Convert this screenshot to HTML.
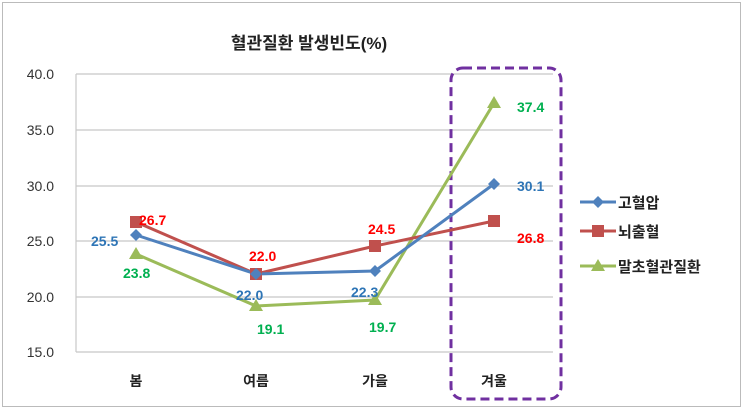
<!DOCTYPE html><html><head><meta charset="utf-8"><style>body{margin:0;background:#fff}svg{display:block}</style></head><body>
<svg width="743" height="410" xmlns="http://www.w3.org/2000/svg" font-family="'Liberation Sans','Noto Sans CJK KR',sans-serif">
<rect x="2.5" y="2.5" width="738" height="404" fill="#fff" stroke="#bbb"/>
<text x="309" y="49" text-anchor="middle" font-size="17" font-weight="bold" fill="#222">혈관질환 발생빈도(%)</text>
<g stroke="#c8c8c8" stroke-width="1.2">
<line x1="76" y1="74" x2="553" y2="74"/><line x1="76" y1="130" x2="553" y2="130"/><line x1="76" y1="186" x2="553" y2="186"/><line x1="76" y1="241" x2="553" y2="241"/><line x1="76" y1="297" x2="553" y2="297"/><line x1="76" y1="352" x2="553" y2="352"/><line x1="76" y1="74" x2="76" y2="352"/></g>
<g font-size="14" fill="#333" text-anchor="end"><text x="54" y="79">40.0</text><text x="54" y="135">35.0</text><text x="54" y="191">30.0</text><text x="54" y="246">25.0</text><text x="54" y="302">20.0</text><text x="54" y="357">15.0</text></g>
<g font-size="14" font-weight="bold" fill="#222" text-anchor="middle"><text x="136" y="386">봄</text><text x="256" y="386">여름</text><text x="375" y="386">가을</text><text x="494" y="386">겨울</text></g>
<rect x="451" y="68" width="110" height="331" rx="12" fill="none" stroke="#7030a0" stroke-width="3" stroke-dasharray="9,5"/>
<polyline points="136,254 256,306 375,300 494,103" fill="none" stroke="#9bbb59" stroke-width="3"/>
<polyline points="136,222 256,274 375,246 494,221" fill="none" stroke="#c0504d" stroke-width="3"/>
<polyline points="136,235 256,274 375,271 494,184" fill="none" stroke="#4f81bd" stroke-width="3"/>
<g fill="#9bbb59"><path d="M136,247l7,12h-14z"/><path d="M256,299l7,12h-14z"/><path d="M375,293l7,12h-14z"/><path d="M494,96l7,12h-14z"/></g>
<g fill="#c0504d"><rect x="130" y="216" width="12" height="12"/><rect x="250" y="268" width="12" height="12"/><rect x="369" y="240" width="12" height="12"/><rect x="488" y="215" width="12" height="12"/></g>
<g fill="#4f81bd"><path d="M136,229l6,6-6,6-6-6z"/><path d="M256,268l6,6-6,6-6-6z"/><path d="M375,265l6,6-6,6-6-6z"/><path d="M494,178l6,6-6,6-6-6z"/></g>
<g font-size="14" font-weight="bold">
<text x="91" y="246" fill="#2e75b6">25.5</text><text x="236" y="300" fill="#2e75b6">22.0</text><text x="351" y="297" fill="#2e75b6">22.3</text><text x="517" y="191" fill="#2e75b6">30.1</text>
<text x="139" y="225" fill="#ff0000">26.7</text><text x="249" y="261" fill="#ff0000">22.0</text><text x="368" y="234" fill="#ff0000">24.5</text><text x="517" y="243" fill="#ff0000">26.8</text>
<text x="123" y="278" fill="#00b050">23.8</text><text x="257" y="334" fill="#00b050">19.1</text><text x="369" y="332" fill="#00b050">19.7</text><text x="517" y="112" fill="#00b050">37.4</text>
</g>
<g stroke-width="3"><line x1="580" y1="202" x2="616" y2="202" stroke="#4f81bd"/><line x1="580" y1="231" x2="616" y2="231" stroke="#c0504d"/><line x1="580" y1="266" x2="616" y2="266" stroke="#9bbb59"/></g>
<path d="M598,196l6,6-6,6-6-6z" fill="#4f81bd"/><rect x="592" y="225" width="12" height="12" fill="#c0504d"/><path d="M598,259l7,12h-14z" fill="#9bbb59"/>
<g font-size="15" font-weight="bold" fill="#222"><text x="618" y="208">고혈압</text><text x="618" y="237">뇌출혈</text><text x="618" y="272">말초혈관질환</text></g>
</svg></body></html>
